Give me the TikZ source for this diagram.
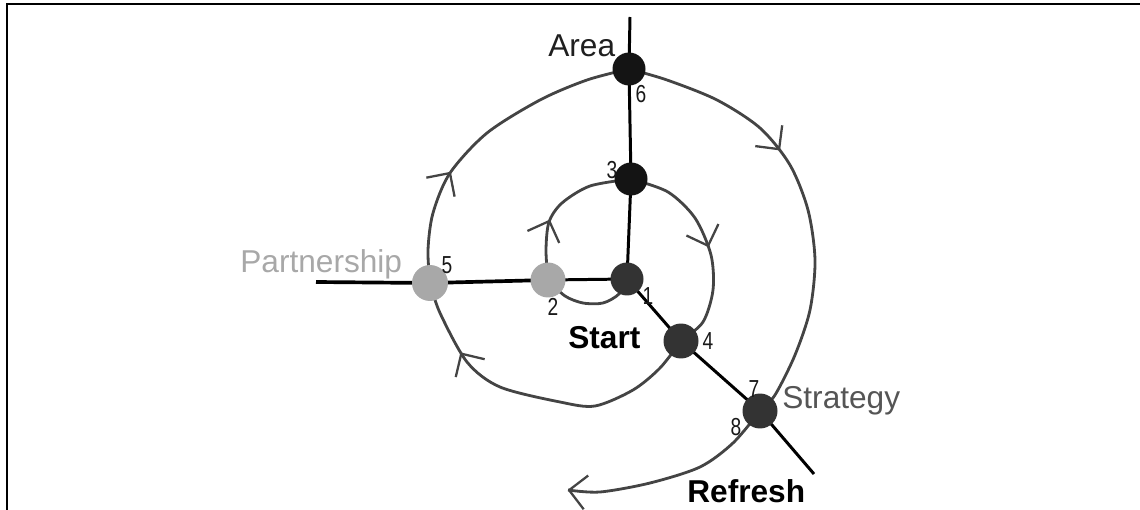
\documentclass[tikz,border=0pt]{standalone}
\usepackage{fontspec}
\setmainfont{Liberation Sans}
\usetikzlibrary{decorations.markings}
\pgfdeclarelayer{bg}
\pgfsetlayers{bg,main}
\definecolor{spiralgray}{HTML}{444444}
\definecolor{darkdot}{HTML}{333333}
\definecolor{blackdot}{HTML}{141414}
\definecolor{lightdot}{HTML}{A8A8A8}
\definecolor{labgray}{HTML}{555555}
\newcommand\numlab[1]{\scalebox{0.78}[1]{#1}}
\begin{document}
\begin{tikzpicture}[x=0.02cm,y=-0.02cm,
  dot/.style={circle,inner sep=0pt,minimum size=0.66cm},
  spiral/.style={draw=spiralgray,line width=1.6pt,line join=round},
  chev/.style={postaction={decorate,decoration={markings,
     mark=at position #1 with {\draw[spiralgray,line width=1.3pt,line join=round] (-0.34cm,0.34cm) -- (0,0) -- (-0.34cm,-0.34cm);}}}},
  axis/.style={draw=black,line width=1.7pt},
  big/.style={font=\fontsize{18}{20}\selectfont,inner sep=0pt,anchor=base west},
  num/.style={font=\fontsize{14}{16}\selectfont,inner sep=0pt,text=black!90}
]
\useasboundingbox (0,0) rectangle (1140,510);
% frame
\draw[line width=1.2pt] (7,510) -- (7,4.3) -- (1140,4.3);

% nodes
\node[dot,fill=blackdot] (n6) at (629,69) {};
\node[dot,fill=blackdot] (n3) at (631,179) {};
\node[dot,fill=darkdot]  (n1) at (627,279) {};
\node[dot,fill=lightdot,minimum size=0.7cm] (n2) at (548,280) {};
\node[dot,fill=lightdot,minimum size=0.72cm] (n5) at (430,283) {};
\node[dot,fill=darkdot,minimum size=0.7cm]  (n4) at (681,341) {};
\node[dot,fill=darkdot,minimum size=0.7cm]  (n7) at (760,411) {};

\coordinate (vtop) at (630,17);
\coordinate (hleft) at (316,282);
\coordinate (dend) at (814,474);
\coordinate (rend) at (568,490);

\begin{pgfonlayer}{bg}
% straight axes
\draw[axis] (vtop) -- (n6.center) -- (n3.center) -- (n1.center);
\draw[axis,line width=2.1pt] (hleft) -- (n5.center) -- (n2.center);
\draw[axis] (n2.center) -- (n1.center);
\draw[axis] (n1.center) -- (n4.center) -- (n7.center) -- (dend);
% spiral
\draw[spiral] plot[smooth] coordinates {(n1.center) (619,294) (603,303) (583,303) (565,296) (n2.center)};
\draw[spiral,chev=0.38] plot[smooth] coordinates {(n2.center) (546,250) (549,222) (562,203) (590,186) (n3.center)};
\draw[spiral,chev=0.5] plot[smooth] coordinates {(n3.center) (668,192) (695,218) (711,255) (713,290) (703,322) (n4.center)};
\draw[spiral,chev=0.77] plot[smooth] coordinates {(n4.center) (660,368) (633,390) (595,406) (560,402) (500,387) (467,362) (440,313) (n5.center)};
\draw[spiral,chev=0.35] plot[smooth] coordinates {(n5.center) (428,250) (433,213) (450,173) (487,133) (540,100) (587,80) (n6.center)};
\draw[spiral,chev=0.38] plot[smooth] coordinates {(n6.center) (667,80) (717,100) (760,128) (790,165) (808,210) (815,260) (810,310) (795,355) (775,395) (n7.center)};
\draw[spiral,chev=0.995] plot[smooth] coordinates {(n7.center) (733,443) (700,467) (650,483) (600,492) (rend)};
\end{pgfonlayer}

% labels
\node[big,text=black!88] (tarea) at (548,57) {Area};
\node[big,text=lightdot] (tpart) at (240,272) {Partnership};
\node[big,font=\fontsize{18}{20}\selectfont\bfseries] (tstart) at (568,348) {Start};
\node[big,text=labgray] (tstrat) at (782,408) {Strategy};
\node[big,font=\fontsize{18}{20}\selectfont\bfseries] (trefr) at (687,502) {Refresh};

\node[num] (l6) at (641,94) {\numlab{6}};
\node[num] (l3) at (612,170) {\numlab{3}};
\node[num] (l5) at (447,265) {\numlab{5}};
\node[num] (l2) at (553,307) {\numlab{2}};
\node[num] (l1) at (648,296) {\numlab{1}};
\node[num] (l4) at (708,341) {\numlab{4}};
\node[num] (l7) at (754,389) {\numlab{7}};
\node[num] (l8) at (736,427) {\numlab{8}};
\end{tikzpicture}
\end{document}
